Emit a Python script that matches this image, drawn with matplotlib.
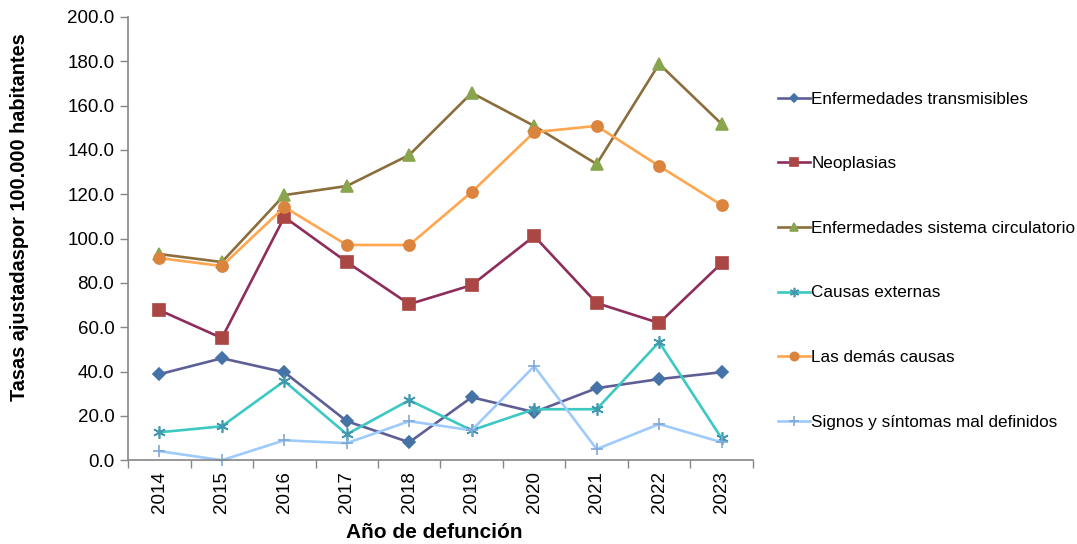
import matplotlib.pyplot as plt
import numpy as np

# ── data ─────────────────────────────────────
years = ["2014", "2015", "2016", "2017", "2018", "2019", "2020", "2021", "2022", "2023"]

transmisibles = [38.8, 46.0, 39.7, 17.6, 8.1, 28.4, 21.7, 32.5, 36.6, 39.7]
neoplasias = [67.7, 55.1, 109.7, 89.4, 70.4, 79.0, 101.1, 70.9, 61.9, 88.9]
circulatorio = [93.0, 89.4, 119.6, 123.7, 137.7, 165.7, 150.8, 133.6, 178.8, 151.7]
externas = [12.6, 15.3, 35.7, 11.7, 27.1, 13.5, 23.0, 23.0, 53.3, 9.9]
demas = [91.2, 87.6, 114.2, 97.1, 97.1, 121.0, 148.0, 150.8, 132.7, 115.1]
signos = [4.1, 0.0, 9.0, 7.7, 17.6, 13.5, 42.4, 5.0, 16.3, 8.1]

labels = [
    "Enfermedades transmisibles",
    "Neoplasias",
    "Enfermedades sistema circulatorio",
    "Causas externas",
    "Las demás causas",
    "Signos y síntomas mal definidos",
]

# (line colour, marker, marker face colour, marker size)
styles = [
    ("#5F5F98", "D", "#4572A7", 6),
    ("#8E2D5C", "s", "#AA4643", 8),
    ("#8B6E3C", "^", "#89A54E", 8),
    ("#3CC8C3", (6, 2, 0), "#4198AF", 9),
    ("#FFA64F", "o", "#DB843D", 8),
    ("#9ECBFB", "+", "#80A8D8", 9),
]

series = [transmisibles, neoplasias, circulatorio, externas, demas, signos]

plt.rcParams["font.family"] = ["Liberation Sans", "DejaVu Sans"]

fig = plt.figure(figsize=(10.77, 5.44), dpi=100)
ax = fig.add_axes([0.119, 0.154, 0.580, 0.815])

x = np.arange(len(years))
for vals, lab, (lc, mk, mc, ms) in zip(series, labels, styles):
    ax.plot(
        x, vals, color=lc, linewidth=1.9, marker=mk, markersize=ms,
        markerfacecolor=mc, markeredgecolor=mc, markeredgewidth=1.2,
        label=lab, clip_on=False,
    )

ax.set_xlim(-0.5, len(years) - 0.5)
ax.set_ylim(0, 200)
yt = np.arange(0, 201, 20)
ax.set_yticks(yt)
ax.set_yticklabels([f"{v:.1f}" for v in yt], fontsize=13.5)

ax.set_xticks(x)
ax.set_xticklabels(years, rotation=90, fontsize=13.5)
ax.set_xticks(np.arange(-0.5, len(years)), minor=True)
ax.tick_params(axis="x", which="major", length=0, pad=8)
ax.tick_params(axis="x", which="minor", length=6, color="#868686", width=1)
ax.tick_params(axis="y", length=6, color="#868686", width=1, pad=4)

for side in ("top", "right"):
    ax.spines[side].set_visible(False)
for side in ("left", "bottom"):
    ax.spines[side].set_color("#868686")
    ax.spines[side].set_linewidth(1.2)

ax.set_ylabel("Tasas ajustadaspor 100.000 habitantes", fontsize=14.3,
              fontweight="bold")
ax.yaxis.set_label_coords(-0.158, 0.549)
ax.set_xlabel("Año de defunción", fontsize=15, fontweight="bold")
ax.xaxis.set_label_coords(0.49, -0.142)

ax.legend(
    loc="center left", bbox_to_anchor=(1.029, 0.45), frameon=False,
    fontsize=12.3, labelspacing=2.9, handlelength=1.87, handletextpad=0.1,
    borderaxespad=0, markerscale=0.75,
)

fig.savefig("out.png", dpi=100)
